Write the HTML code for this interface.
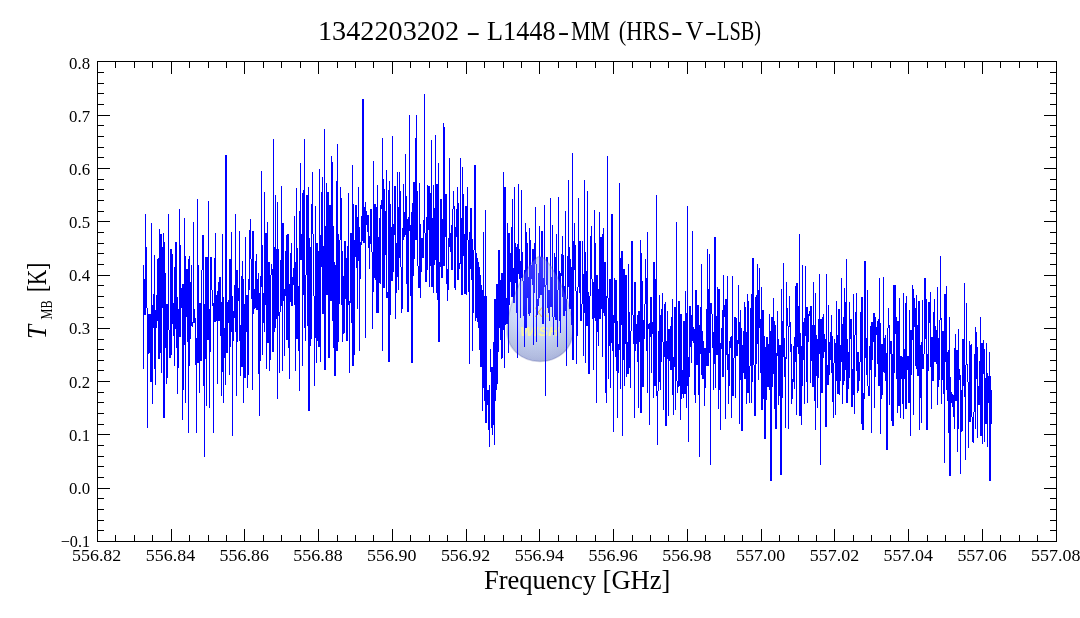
<!DOCTYPE html>
<html lang="en">
<head>
<meta charset="utf-8">
<title>1342203202 – L1448–MM (HRS–V–LSB)</title>
<style>
html,body{margin:0;padding:0;background:#fff;}
body{width:1080px;height:618px;overflow:hidden;}
svg{display:block;will-change:transform;font-family:"Liberation Serif",serif;fill:#000;}
.tk{font-size:17px;}
.big{font-size:27px;}
</style>
</head>
<body>
<svg width="1080" height="618" viewBox="0 0 1080 618">
<defs>
<radialGradient id="dg" gradientUnits="userSpaceOnUse" cx="537" cy="306" r="62">
<stop offset="0" stop-color="#e4ecff"/>
<stop offset="0.45" stop-color="#cbd8f6"/>
<stop offset="0.8" stop-color="#b3bde0"/>
<stop offset="1" stop-color="#9ea8d4"/>
</radialGradient>
<linearGradient id="dh" gradientUnits="userSpaceOnUse" x1="0" y1="256" x2="0" y2="335">
<stop offset="0" stop-color="#ffffff" stop-opacity="0.24"/>
<stop offset="0.6" stop-color="#dfe6ff" stop-opacity="0.14"/>
<stop offset="1" stop-color="#c0c8f0" stop-opacity="0.03"/>
</linearGradient>
</defs>
<rect width="1080" height="618" fill="#fff"/>
<g id="wm">
<path d="M540 256.3C549 256.3 573 300 573 331C573 349 558 361.5 540 361.5C522 361.5 507 349 507 331C507 300 531 256.3 540 256.3Z" fill="url(#dg)"/>
<g fill="none" stroke-linecap="round"><path d="M535.5 308L541.5 316.5M535.5 316.5L541.5 308" stroke="#e6b43c" stroke-opacity="0.85" stroke-width="1.1"/><path d="M548.5 308.5C543.5 309.5 543.5 315.5 548.5 316.5" stroke="#f6ee96" stroke-width="1.6"/></g>
<text x="520" y="335.7" font-family="'Liberation Sans',sans-serif" font-weight="bold" font-style="italic" font-size="13" fill="#faf5a0" textLength="39" lengthAdjust="spacingAndGlyphs">WISH</text>
</g>
<path d="M143.5 265V369M144.5 279V315M145.5 214V315M146.5 247V308M147.5 308V428M148.5 314V354M149.5 314V353M150.5 314V382M151.5 223V382M152.5 305V404M153.5 294V328M154.5 255V369M155.5 310V385M156.5 295V328M157.5 259V321M158.5 258V359M159.5 229V359M160.5 234V353M161.5 234V373M162.5 247V308M163.5 233V418M164.5 242V418M165.5 273V348M166.5 304V384M167.5 304V378M168.5 214V330M169.5 330V358M170.5 249V358M171.5 249V355M172.5 254V324M173.5 303V336M174.5 267V366M175.5 242V329M176.5 242V348M177.5 297V394M178.5 309V368M179.5 209V337M180.5 245V337M181.5 288V308M182.5 284V420M183.5 284V390M184.5 218V345M185.5 256V403M186.5 269V317M187.5 269V342M188.5 259V433M189.5 256V366M190.5 282V339M191.5 265V326M192.5 322V327M193.5 222V323M194.5 309V323M195.5 318V365M196.5 338V433M197.5 199V363M198.5 265V363M199.5 303V393M200.5 303V361M201.5 270V361M202.5 235V270M203.5 235V386M204.5 304V457M205.5 257V359M206.5 257V406M207.5 257V340M208.5 201V340M209.5 309V408M210.5 257V352M211.5 257V290M212.5 290V306M213.5 303V433M214.5 258V322M215.5 233V322M216.5 295V321M217.5 291V384M218.5 282V321M219.5 277V321M220.5 277V336M221.5 302V396M222.5 234V372M223.5 297V403M224.5 328V358M225.5 155V385M226.5 155V353M227.5 302V353M228.5 300V323M229.5 259V375M230.5 259V347M231.5 232V332M232.5 296V436M233.5 311V341M234.5 285V318M235.5 214V332M236.5 270V396M237.5 270V342M238.5 288V301M239.5 231V341M240.5 325V376M241.5 276V367M242.5 261V367M243.5 279V403M244.5 304V378M245.5 237V378M246.5 295V332M247.5 295V388M248.5 279V375M249.5 230V290M250.5 219V259M251.5 259V299M252.5 231V390M253.5 231V314M254.5 289V309M255.5 261V308M256.5 254V310M257.5 279V310M258.5 273V374M259.5 293V416M260.5 276V361M261.5 171V287M262.5 245V355M263.5 293V323M264.5 192V332M265.5 233V305M266.5 233V369M267.5 222V343M268.5 262V343M269.5 262V371M270.5 275V360M271.5 264V275M272.5 269V352M273.5 139V352M274.5 247V332M275.5 195V328M276.5 249V319M277.5 202V399M278.5 249V316M279.5 312V373M280.5 260V312M281.5 186V306M282.5 223V371M283.5 223V301M284.5 289V356M285.5 251V296M286.5 235V340M287.5 234V340M288.5 234V348M289.5 284V379M290.5 253V302M291.5 243V306M292.5 277V306M293.5 268V285M294.5 216V305M295.5 262V371M296.5 188V339M297.5 248V339M298.5 286V351M299.5 211V391M300.5 163V260M301.5 234V260M302.5 193V366M303.5 190V295M304.5 139V328M305.5 275V341M306.5 195V275M307.5 195V326M308.5 187V411M309.5 238V411M310.5 247V346M311.5 204V339M312.5 172V234M313.5 234V296M314.5 296V386M315.5 206V338M316.5 243V363M317.5 243V341M318.5 251V347M319.5 169V347M320.5 235V362M321.5 192V267M322.5 177V314M323.5 246V314M324.5 129V370M325.5 226V370M326.5 183V295M327.5 192V295M328.5 192V358M329.5 205V358M330.5 205V301M331.5 156V301M332.5 162V321M333.5 226V348M334.5 262V376M335.5 265V376M336.5 181V351M337.5 144V351M338.5 234V342M339.5 240V304M340.5 187V240M341.5 198V305M342.5 251V342M343.5 276V334M344.5 241V333M345.5 241V299M346.5 258V341M347.5 246V341M348.5 193V305M349.5 301V373M350.5 233V303M351.5 233V323M352.5 165V366M353.5 204V366M354.5 240V355M355.5 205V257M356.5 205V268M357.5 217V309M358.5 187V261M359.5 227V351M360.5 242V279M361.5 216V245M362.5 99V241M363.5 99V243M364.5 207V243M365.5 202V338M366.5 211V225M367.5 215V232M368.5 215V248M369.5 236V269M370.5 209V244M371.5 209V252M372.5 252V329M373.5 161V292M374.5 204V278M375.5 204V280M376.5 207V313M377.5 185V313M378.5 237V313M379.5 218V283M380.5 205V284M381.5 200V209M382.5 138V351M383.5 179V288M384.5 189V288M385.5 211V255M386.5 170V298M387.5 292V298M388.5 190V362M389.5 181V362M390.5 204V315M391.5 227V281M392.5 136V281M393.5 224V272M394.5 186V235M395.5 186V319M396.5 243V293M397.5 172V277M398.5 207V290M399.5 172V258M400.5 191V267M401.5 267V313M402.5 228V309M403.5 184V240M404.5 212V237M405.5 154V235M406.5 196V284M407.5 219V312M408.5 217V312M409.5 115V231M410.5 225V296M411.5 212V363M412.5 203V363M413.5 182V276M414.5 182V259M415.5 138V240M416.5 115V240M417.5 191V266M418.5 266V288M419.5 183V288M420.5 224V298M421.5 238V272M422.5 238V258M423.5 220V258M424.5 94V233M425.5 233V282M426.5 217V282M427.5 185V270M428.5 186V230M429.5 186V287M430.5 193V266M431.5 140V287M432.5 218V287M433.5 185V293M434.5 208V265M435.5 135V260M436.5 184V293M437.5 184V300M438.5 163V342M439.5 262V342M440.5 199V267M441.5 199V278M442.5 219V278M443.5 123V266M444.5 127V266M445.5 194V237M446.5 194V284M447.5 269V301M448.5 238V290M449.5 158V247M450.5 233V252M451.5 225V270M452.5 209V270M453.5 191V209M454.5 206V288M455.5 227V290M456.5 209V237M457.5 187V280M458.5 203V280M459.5 263V269M460.5 158V264M461.5 218V295M462.5 167V295M463.5 194V256M464.5 234V294M465.5 206V294M466.5 206V295M467.5 187V240M468.5 240V292M469.5 232V364M470.5 208V269M471.5 208V280M472.5 239V351M473.5 250V313M474.5 165V250M475.5 165V321M476.5 253V318M477.5 258V322M478.5 262V328M479.5 267V350M480.5 275V367M481.5 285V367M482.5 290V411M483.5 232V388M484.5 296V401M485.5 210V423M486.5 296V423M487.5 390V405M488.5 390V430M489.5 385V447M490.5 349V372M491.5 367V428M492.5 367V435M493.5 342V425M494.5 299V445M495.5 299V401M496.5 284V390M497.5 284V384M498.5 250V352M499.5 250V328M500.5 280V340M501.5 273V359M502.5 273V358M503.5 172V330M504.5 187V368M505.5 187V325M506.5 298V324M507.5 223V324M508.5 233V353M509.5 233V305M510.5 253V282M511.5 227V297M512.5 199V297M513.5 268V303M514.5 187V303M515.5 243V283M516.5 247V313M517.5 244V358M518.5 184V274M519.5 249V279M520.5 261V318M521.5 190V278M522.5 252V281M523.5 281V316M524.5 270V347M525.5 223V328M526.5 232V328M527.5 243V298M528.5 277V314M529.5 228V316M530.5 240V313M531.5 265V279M532.5 249V285M533.5 249V345M534.5 243V293M535.5 207V264M536.5 264V342M537.5 299V315M538.5 273V306M539.5 226V298M540.5 257V295M541.5 231V295M542.5 231V324M543.5 278V324M544.5 205V287M545.5 285V396M546.5 257V285M547.5 257V308M548.5 290V313M549.5 290V321M550.5 198V307M551.5 277V307M552.5 225V317M553.5 317V335M554.5 253V317M555.5 257V320M556.5 234V320M557.5 290V347M558.5 197V290M559.5 271V321M560.5 273V333M561.5 254V276M562.5 236V297M563.5 255V316M564.5 286V316M565.5 211V311M566.5 299V366M567.5 256V299M568.5 180V287M569.5 247V309M570.5 259V309M571.5 267V325M572.5 153V360M573.5 241V360M574.5 223V270M575.5 245V291M576.5 291V364M577.5 287V336M578.5 198V287M579.5 241V293M580.5 241V321M581.5 304V321M582.5 241V304M583.5 274V356M584.5 180V313M585.5 252V363M586.5 271V326M587.5 191V326M588.5 292V374M589.5 296V374M590.5 236V296M591.5 226V279M592.5 279V319M593.5 282V370M594.5 210V318M595.5 243V321M596.5 275V403M597.5 275V332M598.5 289V346M599.5 212V319M600.5 237V319M601.5 237V309M602.5 234V357M603.5 228V313M604.5 262V316M605.5 262V393M606.5 296V403M607.5 156V298M608.5 298V379M609.5 279V346M610.5 279V388M611.5 214V343M612.5 214V351M613.5 315V432M614.5 278V323M615.5 280V357M616.5 280V371M617.5 321V418M618.5 344V373M619.5 183V350M620.5 258V389M621.5 251V325M622.5 251V436M623.5 269V360M624.5 269V386M625.5 275V344M626.5 275V377M627.5 342V374M628.5 264V374M629.5 312V368M630.5 331V388M631.5 241V331M632.5 241V315M633.5 315V344M634.5 282V418M635.5 282V351M636.5 324V344M637.5 315V362M638.5 311V408M639.5 311V342M640.5 240V413M641.5 253V413M642.5 281V387M643.5 320V387M644.5 304V339M645.5 259V304M646.5 278V351M647.5 232V393M648.5 324V329M649.5 323V425M650.5 297V337M651.5 297V373M652.5 322V334M653.5 262V398M654.5 262V386M655.5 279V386M656.5 195V396M657.5 391V445M658.5 331V391M659.5 295V382M660.5 315V390M661.5 309V362M662.5 293V342M663.5 342V410M664.5 304V357M665.5 302V426M666.5 341V426M667.5 311V359M668.5 329V416M669.5 329V361M670.5 326V370M671.5 317V370M672.5 299V395M673.5 357V415M674.5 307V367M675.5 307V410M676.5 222V381M677.5 381V393M678.5 301V387M679.5 301V386M680.5 314V420M681.5 314V399M682.5 370V394M683.5 321V398M684.5 321V394M685.5 291V394M686.5 313V408M687.5 206V386M688.5 357V442M689.5 306V377M690.5 306V347M691.5 315V363M692.5 231V341M693.5 327V343M694.5 329V395M695.5 290V403M696.5 290V365M697.5 305V365M698.5 305V395M699.5 325V457M700.5 307V354M701.5 264V375M702.5 331V379M703.5 341V379M704.5 348V406M705.5 348V388M706.5 309V366M707.5 249V366M708.5 289V366M709.5 254V353M710.5 303V465M711.5 303V314M712.5 314V348M713.5 332V390M714.5 237V364M715.5 237V388M716.5 316V355M717.5 287V355M718.5 289V409M719.5 289V390M720.5 343V430M721.5 328V349M722.5 310V377M723.5 275V377M724.5 305V317M725.5 299V419M726.5 299V355M727.5 276V370M728.5 354V404M729.5 341V386M730.5 337V348M731.5 336V418M732.5 276V396M733.5 358V396M734.5 317V358M735.5 317V398M736.5 318V356M737.5 340V356M738.5 285V344M739.5 322V424M740.5 310V380M741.5 328V431M742.5 345V431M743.5 331V373M744.5 302V379M745.5 307V379M746.5 332V404M747.5 294V393M748.5 301V393M749.5 366V403M750.5 308V366M751.5 294V403M752.5 258V382M753.5 258V365M754.5 365V416M755.5 297V416M756.5 295V364M757.5 264V344M758.5 290V380M759.5 268V328M760.5 319V373M761.5 287V410M762.5 310V410M763.5 310V399M764.5 336V439M765.5 347V439M766.5 337V400M767.5 337V387M768.5 344V387M769.5 314V390M770.5 331V481M771.5 317V481M772.5 317V387M773.5 298V374M774.5 321V409M775.5 325V429M776.5 353V429M777.5 311V356M778.5 339V405M779.5 345V396M780.5 345V475M781.5 289V475M782.5 321V398M783.5 263V357M784.5 338V377M785.5 357V428M786.5 282V359M787.5 308V326M788.5 326V429M789.5 296V327M790.5 322V352M791.5 344V404M792.5 379V399M793.5 346V382M794.5 337V389M795.5 286V362M796.5 283V415M797.5 283V347M798.5 306V354M799.5 234V416M800.5 333V416M801.5 346V425M802.5 265V386M803.5 322V360M804.5 318V404M805.5 266V336M806.5 307V382M807.5 307V403M808.5 314V342M809.5 311V316M810.5 306V383M811.5 306V361M812.5 325V387M813.5 282V387M814.5 325V401M815.5 293V430M816.5 335V376M817.5 339V408M818.5 319V378M819.5 274V354M820.5 319V465M821.5 319V393M822.5 317V393M823.5 314V358M824.5 334V352M825.5 339V427M826.5 274V427M827.5 365V385M828.5 305V385M829.5 342V375M830.5 332V360M831.5 315V373M832.5 336V402M833.5 363V418M834.5 339V363M835.5 343V415M836.5 301V381M837.5 335V394M838.5 309V394M839.5 309V395M840.5 345V381M841.5 278V362M842.5 324V404M843.5 317V385M844.5 288V381M845.5 302V370M846.5 259V403M847.5 339V403M848.5 352V389M849.5 302V378M850.5 319V339M851.5 319V407M852.5 369V407M853.5 294V395M854.5 335V414M855.5 312V335M856.5 293V371M857.5 352V393M858.5 352V391M859.5 362V381M860.5 312V362M861.5 297V424M862.5 297V430M863.5 393V430M864.5 261V399M865.5 261V358M866.5 338V375M867.5 290V386M868.5 386V396M869.5 346V396M870.5 326V370M871.5 322V433M872.5 322V360M873.5 313V342M874.5 313V408M875.5 317V377M876.5 327V335M877.5 321V364M878.5 319V386M879.5 278V386M880.5 323V434M881.5 344V399M882.5 344V395M883.5 277V372M884.5 338V373M885.5 335V381M886.5 353V450M887.5 328V450M888.5 308V328M889.5 325V405M890.5 341V354M891.5 341V421M892.5 354V426M893.5 285V426M894.5 285V373M895.5 285V334M896.5 317V379M897.5 321V413M898.5 321V406M899.5 298V406M900.5 356V418M901.5 356V379M902.5 357V404M903.5 293V419M904.5 349V379M905.5 303V409M906.5 296V409M907.5 356V370M908.5 356V403M909.5 310V403M910.5 330V436M911.5 330V375M912.5 285V340M913.5 289V415M914.5 298V327M915.5 308V366M916.5 295V369M917.5 325V376M918.5 301V376M919.5 301V430M920.5 345V398M921.5 342V423M922.5 300V369M923.5 354V369M924.5 278V354M925.5 278V339M926.5 299V430M927.5 354V430M928.5 302V371M929.5 302V323M930.5 292V367M931.5 337V409M932.5 337V381M933.5 312V381M934.5 299V362M935.5 326V362M936.5 330V364M937.5 287V405M938.5 338V387M939.5 320V380M940.5 256V320M941.5 318V404M942.5 331V380M943.5 331V394M944.5 294V463M945.5 294V362M946.5 286V390M947.5 352V401M948.5 350V433M949.5 317V476M950.5 377V476M951.5 392V403M952.5 394V407M953.5 395V417M954.5 348V429M955.5 334V401M956.5 350V401M957.5 350V452M958.5 329V429M959.5 369V380M960.5 375V474M961.5 390V432M962.5 339V431M963.5 339V386M964.5 283V397M965.5 365V460M966.5 303V365M967.5 364V382M968.5 382V448M969.5 341V422M970.5 345V422M971.5 344V417M972.5 417V442M973.5 412V443M974.5 354V412M975.5 327V429M976.5 332V379M977.5 347V438M978.5 386V405M979.5 361V405M980.5 317V436M981.5 343V436M982.5 343V444M983.5 340V374M984.5 349V442M985.5 378V424M986.5 343V424M987.5 373V447M988.5 376V403M989.5 352V481M990.5 376V481M991.5 390V424" stroke="#0000ff" stroke-width="1" fill="none" shape-rendering="crispEdges"/>
<path d="M540 256.3C549 256.3 573 300 573 331C573 349 558 361.5 540 361.5C522 361.5 507 349 507 331C507 300 531 256.3 540 256.3Z" fill="url(#dh)" stroke="#0a1478" stroke-opacity="0.16" stroke-width="1.6"/>

<path d="M97.5 61.5H1056.5V541.5H97.5Z" stroke="#000" stroke-width="1" fill="none" shape-rendering="crispEdges"/>
<path d="M115.5 541.5v-6.5M115.5 61.5v6.5M134.5 541.5v-6.5M134.5 61.5v6.5M152.5 541.5v-6.5M152.5 61.5v6.5M171.5 541.5v-12.5M171.5 61.5v12.5M189.5 541.5v-6.5M189.5 61.5v6.5M208.5 541.5v-6.5M208.5 61.5v6.5M226.5 541.5v-6.5M226.5 61.5v6.5M244.5 541.5v-12.5M244.5 61.5v12.5M263.5 541.5v-6.5M263.5 61.5v6.5M281.5 541.5v-6.5M281.5 61.5v6.5M300.5 541.5v-6.5M300.5 61.5v6.5M318.5 541.5v-12.5M318.5 61.5v12.5M337.5 541.5v-6.5M337.5 61.5v6.5M355.5 541.5v-6.5M355.5 61.5v6.5M373.5 541.5v-6.5M373.5 61.5v6.5M392.5 541.5v-12.5M392.5 61.5v12.5M410.5 541.5v-6.5M410.5 61.5v6.5M429.5 541.5v-6.5M429.5 61.5v6.5M447.5 541.5v-6.5M447.5 61.5v6.5M466.5 541.5v-12.5M466.5 61.5v12.5M484.5 541.5v-6.5M484.5 61.5v6.5M503.5 541.5v-6.5M503.5 61.5v6.5M521.5 541.5v-6.5M521.5 61.5v6.5M539.5 541.5v-12.5M539.5 61.5v12.5M558.5 541.5v-6.5M558.5 61.5v6.5M576.5 541.5v-6.5M576.5 61.5v6.5M595.5 541.5v-6.5M595.5 61.5v6.5M613.5 541.5v-12.5M613.5 61.5v12.5M632.5 541.5v-6.5M632.5 61.5v6.5M650.5 541.5v-6.5M650.5 61.5v6.5M668.5 541.5v-6.5M668.5 61.5v6.5M687.5 541.5v-12.5M687.5 61.5v12.5M705.5 541.5v-6.5M705.5 61.5v6.5M724.5 541.5v-6.5M724.5 61.5v6.5M742.5 541.5v-6.5M742.5 61.5v6.5M761.5 541.5v-12.5M761.5 61.5v12.5M779.5 541.5v-6.5M779.5 61.5v6.5M798.5 541.5v-6.5M798.5 61.5v6.5M816.5 541.5v-6.5M816.5 61.5v6.5M834.5 541.5v-12.5M834.5 61.5v12.5M853.5 541.5v-6.5M853.5 61.5v6.5M871.5 541.5v-6.5M871.5 61.5v6.5M890.5 541.5v-6.5M890.5 61.5v6.5M908.5 541.5v-12.5M908.5 61.5v12.5M927.5 541.5v-6.5M927.5 61.5v6.5M945.5 541.5v-6.5M945.5 61.5v6.5M964.5 541.5v-6.5M964.5 61.5v6.5M982.5 541.5v-12.5M982.5 61.5v12.5M1000.5 541.5v-6.5M1000.5 61.5v6.5M1019.5 541.5v-6.5M1019.5 61.5v6.5M1037.5 541.5v-6.5M1037.5 61.5v6.5M97.5 530.5h6.5M1056.5 530.5h-6.5M97.5 520.5h6.5M1056.5 520.5h-6.5M97.5 509.5h6.5M1056.5 509.5h-6.5M97.5 498.5h6.5M1056.5 498.5h-6.5M97.5 488.5h12.5M1056.5 488.5h-12.5M97.5 477.5h6.5M1056.5 477.5h-6.5M97.5 466.5h6.5M1056.5 466.5h-6.5M97.5 456.5h6.5M1056.5 456.5h-6.5M97.5 445.5h6.5M1056.5 445.5h-6.5M97.5 434.5h12.5M1056.5 434.5h-12.5M97.5 424.5h6.5M1056.5 424.5h-6.5M97.5 413.5h6.5M1056.5 413.5h-6.5M97.5 402.5h6.5M1056.5 402.5h-6.5M97.5 392.5h6.5M1056.5 392.5h-6.5M97.5 381.5h12.5M1056.5 381.5h-12.5M97.5 370.5h6.5M1056.5 370.5h-6.5M97.5 360.5h6.5M1056.5 360.5h-6.5M97.5 349.5h6.5M1056.5 349.5h-6.5M97.5 339.5h6.5M1056.5 339.5h-6.5M97.5 328.5h12.5M1056.5 328.5h-12.5M97.5 317.5h6.5M1056.5 317.5h-6.5M97.5 307.5h6.5M1056.5 307.5h-6.5M97.5 296.5h6.5M1056.5 296.5h-6.5M97.5 285.5h6.5M1056.5 285.5h-6.5M97.5 275.5h12.5M1056.5 275.5h-12.5M97.5 264.5h6.5M1056.5 264.5h-6.5M97.5 253.5h6.5M1056.5 253.5h-6.5M97.5 243.5h6.5M1056.5 243.5h-6.5M97.5 232.5h6.5M1056.5 232.5h-6.5M97.5 221.5h12.5M1056.5 221.5h-12.5M97.5 211.5h6.5M1056.5 211.5h-6.5M97.5 200.5h6.5M1056.5 200.5h-6.5M97.5 189.5h6.5M1056.5 189.5h-6.5M97.5 179.5h6.5M1056.5 179.5h-6.5M97.5 168.5h12.5M1056.5 168.5h-12.5M97.5 157.5h6.5M1056.5 157.5h-6.5M97.5 147.5h6.5M1056.5 147.5h-6.5M97.5 136.5h6.5M1056.5 136.5h-6.5M97.5 125.5h6.5M1056.5 125.5h-6.5M97.5 115.5h12.5M1056.5 115.5h-12.5M97.5 104.5h6.5M1056.5 104.5h-6.5M97.5 93.5h6.5M1056.5 93.5h-6.5M97.5 83.5h6.5M1056.5 83.5h-6.5M97.5 72.5h6.5M1056.5 72.5h-6.5" stroke="#000" stroke-width="1" fill="none" shape-rendering="crispEdges"/>
<g class="tk">
<text x="72.0" y="561.3" textLength="49.3" lengthAdjust="spacingAndGlyphs">556.82</text>
<text x="145.8" y="561.3" textLength="49.3" lengthAdjust="spacingAndGlyphs">556.84</text>
<text x="219.6" y="561.3" textLength="49.3" lengthAdjust="spacingAndGlyphs">556.86</text>
<text x="293.3" y="561.3" textLength="49.3" lengthAdjust="spacingAndGlyphs">556.88</text>
<text x="367.1" y="561.3" textLength="49.3" lengthAdjust="spacingAndGlyphs">556.90</text>
<text x="440.9" y="561.3" textLength="49.3" lengthAdjust="spacingAndGlyphs">556.92</text>
<text x="514.7" y="561.3" textLength="49.3" lengthAdjust="spacingAndGlyphs">556.94</text>
<text x="588.5" y="561.3" textLength="49.3" lengthAdjust="spacingAndGlyphs">556.96</text>
<text x="662.2" y="561.3" textLength="49.3" lengthAdjust="spacingAndGlyphs">556.98</text>
<text x="736.0" y="561.3" textLength="49.3" lengthAdjust="spacingAndGlyphs">557.00</text>
<text x="809.8" y="561.3" textLength="49.3" lengthAdjust="spacingAndGlyphs">557.02</text>
<text x="883.6" y="561.3" textLength="49.3" lengthAdjust="spacingAndGlyphs">557.04</text>
<text x="957.4" y="561.3" textLength="49.3" lengthAdjust="spacingAndGlyphs">557.06</text>
<text x="1031.1" y="561.3" textLength="49.3" lengthAdjust="spacingAndGlyphs">557.08</text>
<text x="60.65" y="547.1" textLength="29.4" lengthAdjust="spacingAndGlyphs">−0.1</text>
<text x="69.1" y="493.9" textLength="21" lengthAdjust="spacingAndGlyphs">0.0</text>
<text x="69.1" y="440.8" textLength="21" lengthAdjust="spacingAndGlyphs">0.1</text>
<text x="69.1" y="387.6" textLength="21" lengthAdjust="spacingAndGlyphs">0.2</text>
<text x="69.1" y="334.4" textLength="21" lengthAdjust="spacingAndGlyphs">0.3</text>
<text x="69.1" y="281.2" textLength="21" lengthAdjust="spacingAndGlyphs">0.4</text>
<text x="69.1" y="228.1" textLength="21" lengthAdjust="spacingAndGlyphs">0.5</text>
<text x="69.1" y="174.9" textLength="21" lengthAdjust="spacingAndGlyphs">0.6</text>
<text x="69.1" y="121.7" textLength="21" lengthAdjust="spacingAndGlyphs">0.7</text>
<text x="69.1" y="68.6" textLength="21" lengthAdjust="spacingAndGlyphs">0.8</text>
</g>
<text class="big" y="40"><tspan x="318" textLength="141.07" lengthAdjust="spacingAndGlyphs">1342203202</tspan><tspan> </tspan><tspan font-weight="bold" x="468" textLength="10.55" lengthAdjust="spacingAndGlyphs">–</tspan><tspan> </tspan><tspan x="487" textLength="68.51" lengthAdjust="spacingAndGlyphs">L1448</tspan><tspan font-weight="bold" x="559.3" textLength="8.59" lengthAdjust="spacingAndGlyphs">–</tspan><tspan x="571" textLength="39.01" lengthAdjust="spacingAndGlyphs">MM</tspan><tspan> </tspan><tspan x="618.8" textLength="51.07" lengthAdjust="spacingAndGlyphs">(HRS</tspan><tspan font-weight="bold" x="672.5" textLength="8.65" lengthAdjust="spacingAndGlyphs">–</tspan><tspan x="685.6" textLength="18.04" lengthAdjust="spacingAndGlyphs">V</tspan><tspan font-weight="bold" x="706.2" textLength="9.09" lengthAdjust="spacingAndGlyphs">–</tspan><tspan x="717" textLength="44.01" lengthAdjust="spacingAndGlyphs">LSB)</tspan></text>
<text class="big" x="483.9" y="589" textLength="186.5" lengthAdjust="spacingAndGlyphs">Frequency [GHz]</text>
<g transform="translate(46 338) rotate(-90)">
<text class="big" x="-1.1" y="0" font-style="italic" textLength="14.06" lengthAdjust="spacingAndGlyphs">T</text>
<text x="18.6" y="6.15" font-size="16" textLength="19.03" lengthAdjust="spacingAndGlyphs">MB</text>
<text class="big" x="46" y="0" textLength="29.16" lengthAdjust="spacingAndGlyphs">[K]</text>
</g>
</svg>
</body>
</html>
